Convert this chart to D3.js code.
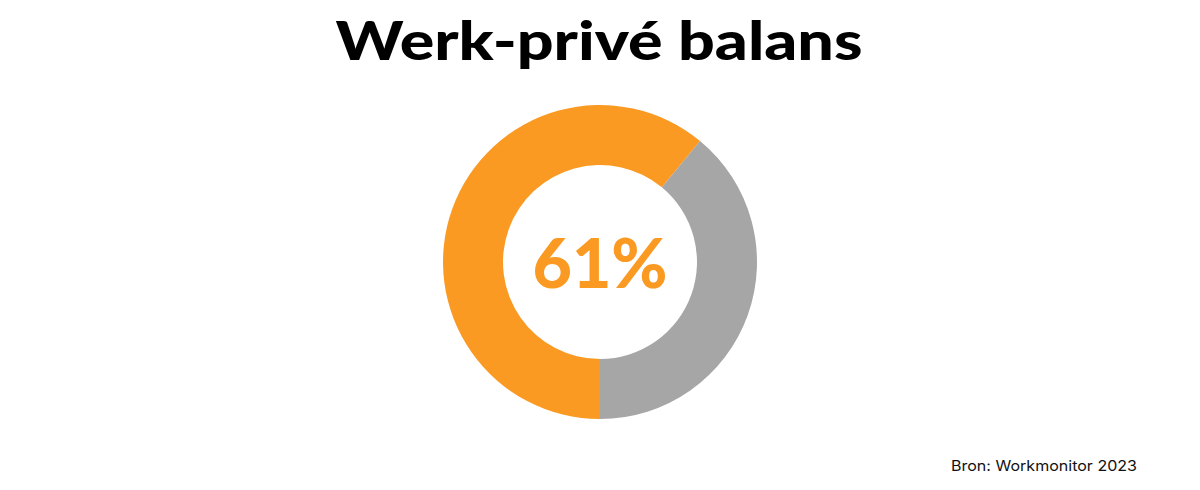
<!DOCTYPE html>
<html>
<head>
<meta charset="utf-8">
<script src="https://cdn.jsdelivr.net/npm/d3@7"></script>
<style>
  html, body { margin: 0; padding: 0; background: #fff; }
  svg { display: block; }
</style>
</head>
<body>
<svg id="chart" width="1200" height="490"></svg>
<script>
// data
var labels = ["Goede balans", "Overig"];
var values = [61, 39];
var colors = ["#FA9A22", "#A6A6A6"];
var title = "Werk-privé balans";
var source = "Bron: Workmonitor 2023";

var svg = d3.select("#chart");
var center = {x: 600, y: 262};
var outerR = 157, innerR = 97;

var pie = d3.pie().sort(null).value(function(d){ return d; })
  .startAngle(Math.PI).endAngle(Math.PI * 3);
var arc = d3.arc().innerRadius(innerR).outerRadius(outerR);

var g = svg.append("g").attr("transform", "translate(" + center.x + "," + center.y + ")");
g.selectAll("path").data(pie(values)).enter().append("path")
  .attr("d", arc)
  .attr("fill", function(d, i){ return colors[i]; });

// big percentage in the hole
g.append("text")
  .attr("x", 0).attr("y", 26)
  .attr("text-anchor", "middle")
  .style("font-family", "Lato, 'DejaVu Sans', sans-serif")
  .style("font-weight", 900)
  .style("font-size", "68px")
  .style("fill", colors[0])
  .text(values[0] + "%");

// title, stretched a bit to the wider face of the original
svg.append("text")
  .attr("x", 599).attr("y", 60)
  .attr("text-anchor", "middle")
  .attr("textLength", 527)
  .attr("lengthAdjust", "spacingAndGlyphs")
  .style("font-family", "Lato, 'DejaVu Sans', sans-serif")
  .style("font-weight", 900)
  .style("font-size", "54px")
  .style("fill", "#000")
  .text(title);

svg.append("text")
  .attr("x", 1137).attr("y", 471)
  .attr("text-anchor", "end")
  .attr("textLength", 186)
  .attr("lengthAdjust", "spacingAndGlyphs")
  .style("font-family", "Inter, 'DejaVu Sans', sans-serif")
  .style("font-size", "14.5px")
  .style("fill", "#111")
  .text(source);
</script>
</body>
</html>
